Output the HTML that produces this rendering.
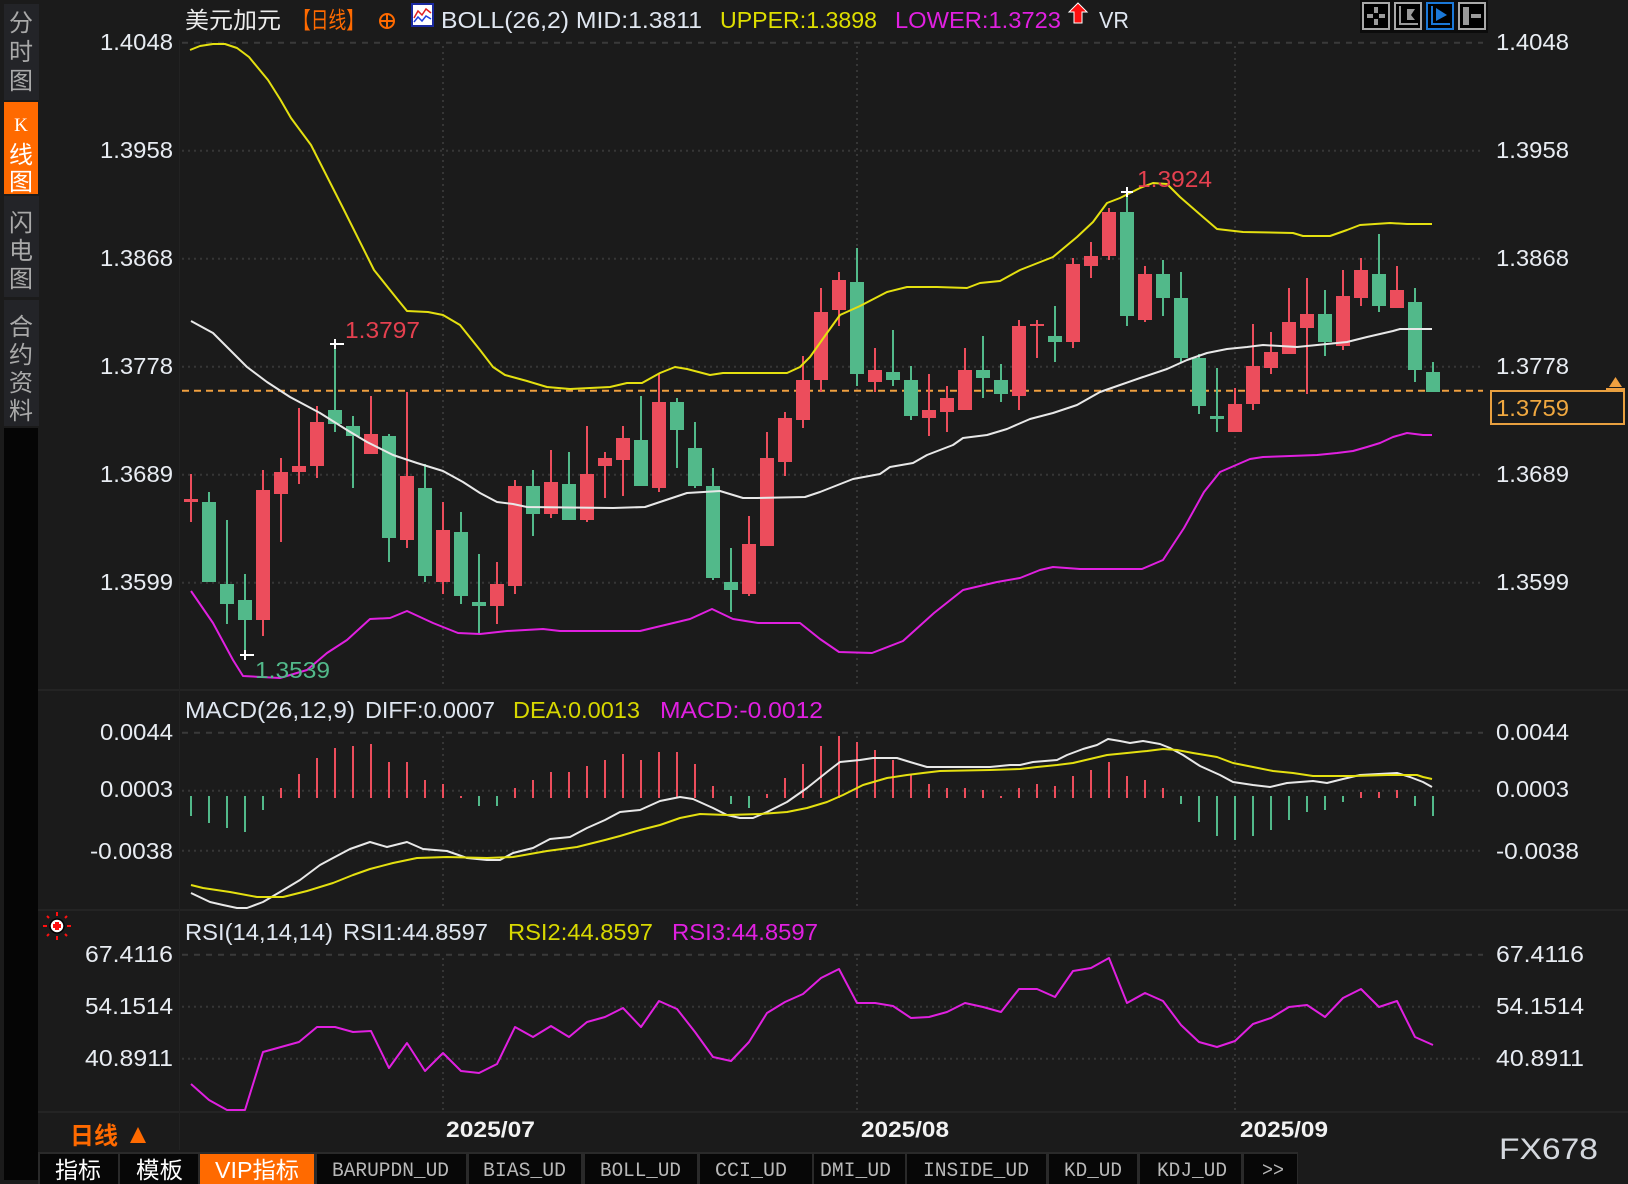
<!DOCTYPE html>
<html><head><meta charset="utf-8"><style>
html,body{margin:0;padding:0;background:#1b1b1b;}
svg{display:block;}
text{font-family:"Liberation Sans","Noto Sans CJK SC",sans-serif;}
.mono text{font-family:"Liberation Mono","Noto Sans CJK SC",monospace;}
</style></head><body>
<svg width="1628" height="1184" viewBox="0 0 1628 1184" xmlns="http://www.w3.org/2000/svg">
<rect x="0" y="0" width="1628" height="1184" fill="#1b1b1b"/>

<!-- left sidebar -->
<rect x="4" y="4" width="35" height="96" fill="#232428"/>
<rect x="4" y="102" width="34" height="92" fill="#ff6a00"/>
<rect x="4" y="196" width="35" height="101" fill="#232428"/>
<rect x="4" y="300" width="35" height="126" fill="#232428"/>
<rect x="4" y="428" width="34" height="752" fill="#050505"/>
<g font-size="24" fill="#a9a9a9" text-anchor="middle">
<text x="21" y="31">分</text><text x="21" y="60">时</text><text x="21" y="89">图</text>
<text x="21" y="231">闪</text><text x="21" y="259">电</text><text x="21" y="287">图</text>
<text x="21" y="335">合</text><text x="21" y="363">约</text><text x="21" y="391">资</text><text x="21" y="419">料</text>
</g>
<g fill="#ffffff" text-anchor="middle">
<text x="21" y="131" font-size="19" style="font-family:'Liberation Serif',serif">K</text>
<text x="21" y="163" font-size="24">线</text><text x="21" y="190" font-size="24">图</text>
</g>

<!-- panel separators -->
<g fill="#242424">
<rect x="38" y="689" width="1590" height="2"/>
<rect x="38" y="909" width="1590" height="2"/>
<rect x="38" y="1111" width="1590" height="2"/>
</g>
<rect x="179" y="40" width="1" height="1110" fill="#222"/>

<!-- grid main -->
<g stroke="#3a3a3a" stroke-width="2">
<line x1="182" y1="42.7" x2="1483" y2="42.7" stroke-dasharray="6 6"/>
<line x1="182" y1="732.7" x2="1483" y2="732.7" stroke-dasharray="6 6"/>
<line x1="182" y1="954.7" x2="1483" y2="954.7" stroke-dasharray="6 6"/>
</g>
<g stroke="#363636" stroke-width="2" stroke-dasharray="2 4">
<line x1="182" y1="150.7" x2="1483" y2="150.7"/>
<line x1="182" y1="258.7" x2="1483" y2="258.7"/>
<line x1="182" y1="366.7" x2="1483" y2="366.7"/>
<line x1="182" y1="474.7" x2="1483" y2="474.7"/>
<line x1="182" y1="582.7" x2="1483" y2="582.7"/>
<line x1="182" y1="790.7" x2="1483" y2="790.7"/>
<line x1="182" y1="850.7" x2="1483" y2="850.7"/>
<line x1="182" y1="1006.7" x2="1483" y2="1006.7"/>
<line x1="182" y1="1058.7" x2="1483" y2="1058.7"/>
<line x1="443" y1="46" x2="443" y2="688"/><line x1="857" y1="46" x2="857" y2="688"/><line x1="1235" y1="46" x2="1235" y2="688"/>
<line x1="443" y1="736" x2="443" y2="908"/><line x1="857" y1="736" x2="857" y2="908"/><line x1="1235" y1="736" x2="1235" y2="908"/>
<line x1="443" y1="958" x2="443" y2="1110"/><line x1="857" y1="958" x2="857" y2="1110"/><line x1="1235" y1="958" x2="1235" y2="1110"/>
</g>

<!-- current price dashed -->
<line x1="182" y1="390.7" x2="1483" y2="390.7" stroke="#f0a040" stroke-width="2" stroke-dasharray="7 5"/>

<!-- candles red -->
<g fill="#ec4d5c">
<rect x="190" y="474" width="2" height="48"/><rect x="184" y="499" width="14" height="3"/>
<rect x="262" y="470" width="2" height="166"/><rect x="256" y="490" width="14" height="130"/>
<rect x="280" y="458" width="2" height="84"/><rect x="274" y="472" width="14" height="22"/>
<rect x="298" y="408" width="2" height="76"/><rect x="292" y="466" width="14" height="6"/>
<rect x="316" y="406" width="2" height="72"/><rect x="310" y="422" width="14" height="44"/>
<rect x="370" y="396" width="2" height="58"/><rect x="364" y="434" width="14" height="20"/>
<rect x="406" y="392" width="2" height="156"/><rect x="400" y="476" width="14" height="64"/>
<rect x="442" y="502" width="2" height="92"/><rect x="436" y="530" width="14" height="52"/>
<rect x="496" y="562" width="2" height="62"/><rect x="490" y="584" width="14" height="22"/>
<rect x="514" y="480" width="2" height="114"/><rect x="508" y="486" width="14" height="100"/>
<rect x="550" y="450" width="2" height="68"/><rect x="544" y="482" width="14" height="32"/>
<rect x="586" y="426" width="2" height="96"/><rect x="580" y="474" width="14" height="46"/>
<rect x="604" y="452" width="2" height="46"/><rect x="598" y="458" width="14" height="8"/>
<rect x="622" y="426" width="2" height="70"/><rect x="616" y="438" width="14" height="22"/>
<rect x="658" y="374" width="2" height="118"/><rect x="652" y="402" width="14" height="86"/>
<rect x="748" y="516" width="2" height="80"/><rect x="742" y="544" width="14" height="50"/>
<rect x="766" y="432" width="2" height="114"/><rect x="760" y="458" width="14" height="88"/>
<rect x="784" y="412" width="2" height="64"/><rect x="778" y="418" width="14" height="44"/>
<rect x="802" y="356" width="2" height="72"/><rect x="796" y="380" width="14" height="40"/>
<rect x="820" y="288" width="2" height="104"/><rect x="814" y="312" width="14" height="68"/>
<rect x="838" y="272" width="2" height="54"/><rect x="832" y="280" width="14" height="30"/>
<rect x="874" y="348" width="2" height="44"/><rect x="868" y="370" width="14" height="12"/>
<rect x="928" y="374" width="2" height="62"/><rect x="922" y="410" width="14" height="8"/>
<rect x="946" y="386" width="2" height="46"/><rect x="940" y="398" width="14" height="14"/>
<rect x="964" y="348" width="2" height="62"/><rect x="958" y="370" width="14" height="40"/>
<rect x="1018" y="320" width="2" height="90"/><rect x="1012" y="326" width="14" height="70"/>
<rect x="1036" y="320" width="2" height="38"/><rect x="1030" y="324" width="14" height="2"/>
<rect x="1072" y="258" width="2" height="90"/><rect x="1066" y="264" width="14" height="78"/>
<rect x="1090" y="242" width="2" height="36"/><rect x="1084" y="256" width="14" height="10"/>
<rect x="1108" y="208" width="2" height="52"/><rect x="1102" y="212" width="14" height="44"/>
<rect x="1144" y="266" width="2" height="56"/><rect x="1138" y="274" width="14" height="46"/>
<rect x="1234" y="388" width="2" height="44"/><rect x="1228" y="404" width="14" height="28"/>
<rect x="1252" y="324" width="2" height="86"/><rect x="1246" y="366" width="14" height="38"/>
<rect x="1270" y="332" width="2" height="42"/><rect x="1264" y="352" width="14" height="16"/>
<rect x="1288" y="288" width="2" height="66"/><rect x="1282" y="322" width="14" height="32"/>
<rect x="1306" y="278" width="2" height="116"/><rect x="1300" y="314" width="14" height="14"/>
<rect x="1342" y="270" width="2" height="80"/><rect x="1336" y="296" width="14" height="50"/>
<rect x="1360" y="258" width="2" height="48"/><rect x="1354" y="270" width="14" height="28"/>
<rect x="1396" y="266" width="2" height="42"/><rect x="1390" y="290" width="14" height="18"/>
</g>
<!-- candles green -->
<g fill="#52b98a">
<rect x="208" y="492" width="2" height="90"/><rect x="202" y="502" width="14" height="80"/>
<rect x="226" y="520" width="2" height="104"/><rect x="220" y="584" width="14" height="20"/>
<rect x="244" y="574" width="2" height="81"/><rect x="238" y="600" width="14" height="20"/>
<rect x="334" y="344" width="2" height="88"/><rect x="328" y="410" width="14" height="14"/>
<rect x="352" y="416" width="2" height="72"/><rect x="346" y="426" width="14" height="10"/>
<rect x="388" y="434" width="2" height="128"/><rect x="382" y="436" width="14" height="102"/>
<rect x="424" y="464" width="2" height="118"/><rect x="418" y="488" width="14" height="88"/>
<rect x="460" y="512" width="2" height="92"/><rect x="454" y="532" width="14" height="64"/>
<rect x="478" y="554" width="2" height="80"/><rect x="472" y="602" width="14" height="4"/>
<rect x="532" y="470" width="2" height="66"/><rect x="526" y="486" width="14" height="28"/>
<rect x="568" y="452" width="2" height="68"/><rect x="562" y="484" width="14" height="36"/>
<rect x="640" y="396" width="2" height="90"/><rect x="634" y="440" width="14" height="46"/>
<rect x="676" y="398" width="2" height="70"/><rect x="670" y="402" width="14" height="28"/>
<rect x="694" y="422" width="2" height="66"/><rect x="688" y="448" width="14" height="38"/>
<rect x="712" y="468" width="2" height="112"/><rect x="706" y="486" width="14" height="92"/>
<rect x="730" y="548" width="2" height="64"/><rect x="724" y="582" width="14" height="8"/>
<rect x="856" y="248" width="2" height="138"/><rect x="850" y="282" width="14" height="92"/>
<rect x="892" y="330" width="2" height="56"/><rect x="886" y="372" width="14" height="8"/>
<rect x="910" y="366" width="2" height="54"/><rect x="904" y="380" width="14" height="36"/>
<rect x="982" y="336" width="2" height="62"/><rect x="976" y="370" width="14" height="8"/>
<rect x="1000" y="364" width="2" height="38"/><rect x="994" y="380" width="14" height="14"/>
<rect x="1054" y="306" width="2" height="56"/><rect x="1048" y="336" width="14" height="6"/>
<rect x="1126" y="192" width="2" height="134"/><rect x="1120" y="212" width="14" height="104"/>
<rect x="1162" y="260" width="2" height="56"/><rect x="1156" y="274" width="14" height="24"/>
<rect x="1180" y="272" width="2" height="90"/><rect x="1174" y="298" width="14" height="60"/>
<rect x="1198" y="354" width="2" height="60"/><rect x="1192" y="358" width="14" height="48"/>
<rect x="1216" y="368" width="2" height="64"/><rect x="1210" y="416" width="14" height="3"/>
<rect x="1324" y="290" width="2" height="66"/><rect x="1318" y="314" width="14" height="28"/>
<rect x="1378" y="234" width="2" height="78"/><rect x="1372" y="274" width="14" height="32"/>
<rect x="1414" y="288" width="2" height="94"/><rect x="1408" y="302" width="14" height="68"/>
<rect x="1432" y="362" width="2" height="30"/><rect x="1426" y="372" width="14" height="20"/>
</g>

<!-- BOLL lines -->
<g fill="none" stroke-width="2" stroke-linejoin="round">
<polyline stroke="#e4e010" points="190,50 200,46 213,44 225,44 237,48 249,57 268,80 280,99 291,118 311,145 343,208 374,270 398,300 407,311 428,312 443,315 460,325 480,350 493,367 505,375 527,381 547,387 570,389 610,387 627,383 642,383 660,373 675,367 687,369 710,375 723,373 787,373 800,367 810,357 827,333 840,315 860,306 887,292 907,287 937,287 967,288 980,283 1000,281 1020,270 1053,257 1077,237 1093,222 1107,203 1120,198 1140,188 1153,183 1167,184 1180,197 1203,217 1217,229 1243,232 1293,233 1303,236 1330,236 1347,230 1360,225 1390,223 1407,224 1432,224"/>
<polyline stroke="#e8e8e8" points="191,321 213,333 247,367 267,382 290,397 320,413 347,430 367,442 393,455 417,463 443,471 463,482 480,493 497,502 513,504 527,507 613,508 645,507 663,501 687,493 720,491 743,498 757,498 805,497 820,492 853,479 880,474 890,467 913,463 927,455 953,445 963,438 987,435 1007,429 1030,419 1053,413 1077,405 1100,392 1120,385 1143,377 1167,369 1187,360 1207,353 1227,349 1247,347 1263,345 1297,347 1317,345 1347,342 1367,337 1393,331 1400,329 1432,329"/>
<polyline stroke="#e020e0" points="191,591 213,623 233,660 243,676 280,678 307,670 327,653 347,640 370,619 390,618 407,611 433,623 458,633 480,634 507,631 543,629 560,631 640,631 690,619 712,609 733,619 758,623 800,623 820,639 839,652 872,653 903,641 934,613 963,590 997,582 1020,578 1040,570 1053,567 1080,569 1142,569 1163,560 1184,528 1204,492 1220,472 1250,459 1263,457 1317,455 1337,453 1353,451 1367,447 1380,443 1393,437 1407,433 1423,435 1432,435"/>
</g>

<!-- high/low markers -->
<g stroke="#ffffff" stroke-width="2">
<line x1="330" y1="344" x2="344" y2="344"/><line x1="335" y1="339" x2="335" y2="349"/>
<line x1="240" y1="655" x2="254" y2="655"/><line x1="245" y1="650" x2="245" y2="660"/>
<line x1="1121" y1="192" x2="1133" y2="192"/><line x1="1127" y1="187" x2="1127" y2="197"/>
</g>
<text x="345" y="338" font-size="23" fill="#e5404f" textLength="75" lengthAdjust="spacingAndGlyphs">1.3797</text>
<text x="255" y="678" font-size="23" fill="#52b98a" textLength="75" lengthAdjust="spacingAndGlyphs">1.3539</text>
<text x="1137" y="187" font-size="23" fill="#e5404f" textLength="75" lengthAdjust="spacingAndGlyphs">1.3924</text>

<!-- MACD histogram -->
<g fill="#ec4d5c">
<rect x="280" y="788" width="2" height="10"/><rect x="298" y="774" width="2" height="24"/><rect x="316" y="758" width="2" height="40"/><rect x="334" y="748" width="2" height="50"/><rect x="352" y="746" width="2" height="52"/><rect x="370" y="744" width="2" height="54"/><rect x="388" y="762" width="2" height="36"/><rect x="406" y="762" width="2" height="36"/><rect x="424" y="780" width="2" height="18"/><rect x="442" y="784" width="2" height="14"/><rect x="460" y="796" width="2" height="2"/>
<rect x="514" y="788" width="2" height="10"/><rect x="532" y="780" width="2" height="18"/><rect x="550" y="772" width="2" height="26"/><rect x="568" y="772" width="2" height="26"/><rect x="586" y="766" width="2" height="32"/><rect x="604" y="760" width="2" height="38"/><rect x="622" y="754" width="2" height="44"/><rect x="640" y="760" width="2" height="38"/><rect x="658" y="752" width="2" height="46"/><rect x="676" y="752" width="2" height="46"/><rect x="694" y="764" width="2" height="34"/><rect x="712" y="786" width="2" height="12"/>
<rect x="766" y="794" width="2" height="4"/><rect x="784" y="778" width="2" height="20"/><rect x="802" y="764" width="2" height="34"/><rect x="820" y="746" width="2" height="52"/><rect x="838" y="736" width="2" height="62"/><rect x="856" y="742" width="2" height="56"/><rect x="874" y="750" width="2" height="48"/><rect x="892" y="760" width="2" height="38"/><rect x="910" y="774" width="2" height="24"/><rect x="928" y="784" width="2" height="14"/><rect x="946" y="788" width="2" height="10"/><rect x="964" y="788" width="2" height="10"/><rect x="982" y="790" width="2" height="8"/><rect x="1000" y="796" width="2" height="2"/><rect x="1018" y="788" width="2" height="10"/><rect x="1036" y="784" width="2" height="14"/><rect x="1054" y="786" width="2" height="12"/><rect x="1072" y="776" width="2" height="22"/><rect x="1090" y="770" width="2" height="28"/><rect x="1108" y="762" width="2" height="36"/><rect x="1126" y="776" width="2" height="22"/><rect x="1144" y="780" width="2" height="18"/><rect x="1162" y="788" width="2" height="10"/>
<rect x="1360" y="792" width="2" height="6"/><rect x="1378" y="792" width="2" height="6"/><rect x="1396" y="790" width="2" height="8"/>
</g>
<g fill="#52b98a">
<rect x="190" y="796" width="2" height="20"/><rect x="208" y="796" width="2" height="27"/><rect x="226" y="796" width="2" height="32"/><rect x="244" y="796" width="2" height="36"/><rect x="262" y="796" width="2" height="14"/>
<rect x="478" y="796" width="2" height="10"/><rect x="496" y="796" width="2" height="10"/>
<rect x="730" y="796" width="2" height="8"/><rect x="748" y="796" width="2" height="12"/>
<rect x="1180" y="796" width="2" height="8"/><rect x="1198" y="796" width="2" height="26"/><rect x="1216" y="796" width="2" height="40"/><rect x="1234" y="796" width="2" height="44"/><rect x="1252" y="796" width="2" height="40"/><rect x="1270" y="796" width="2" height="34"/><rect x="1288" y="796" width="2" height="24"/><rect x="1306" y="796" width="2" height="16"/><rect x="1324" y="796" width="2" height="14"/><rect x="1342" y="796" width="2" height="6"/>
<rect x="1414" y="796" width="2" height="10"/><rect x="1432" y="796" width="2" height="20"/>
</g>
<g fill="none" stroke-width="2" stroke-linejoin="round">
<polyline stroke="#e8e8e8" points="191,893 210,902 223,905 237,908 247,908 263,902 280,892 300,880 320,865 333,858 350,849 370,842 387,847 407,842 423,849 447,851 467,858 487,860 500,860 513,853 533,848 550,839 570,837 587,828 605,820 620,812 640,810 660,801 680,797 693,799 713,808 727,815 740,818 753,818 767,812 787,802 807,788 827,772 840,762 860,760 873,758 897,758 910,762 927,767 990,767 1010,765 1020,765 1033,762 1057,760 1067,755 1083,749 1097,745 1108,739 1120,741 1130,743 1143,741 1160,744 1170,748 1183,755 1200,766 1220,775 1233,782 1253,785 1270,787 1287,783 1313,781 1327,783 1343,779 1360,775 1397,773 1410,777 1423,782 1432,787"/>
<polyline stroke="#e4e010" points="191,885 203,888 230,892 257,897 283,897 307,891 333,883 353,875 370,869 393,863 417,858 447,857 487,858 513,857 547,851 577,847 605,840 620,836 640,830 660,825 680,818 700,814 727,815 760,814 787,812 807,808 827,802 843,795 863,785 887,778 907,775 923,773 940,771 990,770 1020,769 1037,767 1057,765 1073,763 1090,759 1107,755 1127,753 1147,751 1163,749 1177,750 1193,753 1217,757 1233,763 1253,767 1273,771 1293,773 1313,776 1353,776 1387,775 1417,775 1423,777 1432,779"/>
<!-- RSI -->
<polyline stroke="#e020e0" points="191,1084 209,1100 227,1110 245,1110 263,1052 281,1047 299,1042 317,1027 335,1027 353,1032 371,1031 389,1068 407,1043 425,1071 443,1053 461,1071 479,1073 497,1064 515,1027 533,1037 551,1026 569,1037 587,1022 605,1017 623,1008 641,1027 659,1001 677,1009 695,1032 713,1057 731,1061 749,1042 767,1013 785,1002 803,994 821,978 839,969 857,1003 875,1003 893,1006 911,1018 929,1017 947,1012 965,1003 983,1007 1001,1012 1019,989 1037,989 1055,997 1073,971 1091,968 1109,958 1127,1003 1145,993 1163,1001 1181,1025 1199,1042 1217,1047 1235,1041 1253,1024 1271,1018 1289,1007 1307,1005 1325,1017 1343,998 1361,989 1379,1007 1397,1001 1415,1037 1433,1045"/>
</g>

<!-- header -->
<text x="185" y="28" font-size="23" fill="#ececec" textLength="96" lengthAdjust="spacingAndGlyphs">美元加元</text>
<text x="293" y="28" font-size="23" fill="#ff6a00" textLength="71" lengthAdjust="spacingAndGlyphs">【日线】</text>
<g stroke="#ff6a00" stroke-width="2" fill="none"><circle cx="387" cy="21" r="7"/><line x1="380" y1="21" x2="394" y2="21"/><line x1="387" y1="14" x2="387" y2="28"/></g>
<rect x="412" y="4" width="21" height="22" fill="#ffffff" stroke="#1a2aa0" stroke-width="2"/>
<polyline points="414,18 418,11 422,15 426,9 431,13" fill="none" stroke="#e02020" stroke-width="1.5"/>
<polyline points="414,22 418,17 422,21 426,16 431,19" fill="none" stroke="#2040e0" stroke-width="1.5"/>
<text x="441" y="28" font-size="23" fill="#dfe6f0" textLength="261" lengthAdjust="spacingAndGlyphs">BOLL(26,2) MID:1.3811</text>
<text x="720" y="28" font-size="23" fill="#dede00" textLength="157" lengthAdjust="spacingAndGlyphs">UPPER:1.3898</text>
<text x="895" y="28" font-size="23" fill="#e020e0" textLength="166" lengthAdjust="spacingAndGlyphs">LOWER:1.3723</text>
<polygon points="1078,3 1087,12 1082,12 1082,23 1074,23 1074,12 1069,12" fill="#ff1010" stroke="#ffffff" stroke-width="1"/>
<text x="1099" y="28" font-size="23" fill="#dfe6f0" textLength="30" lengthAdjust="spacingAndGlyphs">VR</text>

<!-- top-right icons -->
<rect x="1360" y="0" width="128" height="33" fill="#0c0c0c"/>
<g fill="#000" stroke-width="2">
<rect x="1363" y="3" width="26" height="26" stroke="#a8a8a8"/>
<rect x="1395" y="3" width="26" height="26" stroke="#a8a8a8"/>
<rect x="1427" y="3" width="26" height="26" stroke="#1a78d8"/>
<rect x="1459" y="3" width="26" height="26" stroke="#a8a8a8"/>
</g>
<g fill="#9a9a9a">
<rect x="1374" y="7" width="4" height="6"/><rect x="1374" y="19" width="4" height="6"/><rect x="1367" y="14" width="6" height="4"/><rect x="1379" y="14" width="6" height="4"/>
<rect x="1399" y="6" width="2" height="19"/><rect x="1399" y="23" width="19" height="2"/><polygon points="1407,9 1415,9 1411,15 1415,20 1407,20"/>
<rect x="1463" y="7" width="6" height="18"/><rect x="1471" y="14" width="10" height="4"/>
</g>
<g fill="#1a78d8"><rect x="1431" y="6" width="2" height="19"/><rect x="1431" y="23" width="19" height="2"/><polygon points="1436,8 1447,15 1436,21"/></g>

<!-- axis labels -->
<g font-size="23" fill="#e8ecf2">
<g text-anchor="end">
<text x="173" y="50" textLength="73" lengthAdjust="spacingAndGlyphs">1.4048</text>
<text x="173" y="158" textLength="73" lengthAdjust="spacingAndGlyphs">1.3958</text>
<text x="173" y="266" textLength="73" lengthAdjust="spacingAndGlyphs">1.3868</text>
<text x="173" y="374" textLength="73" lengthAdjust="spacingAndGlyphs">1.3778</text>
<text x="173" y="482" textLength="73" lengthAdjust="spacingAndGlyphs">1.3689</text>
<text x="173" y="590" textLength="73" lengthAdjust="spacingAndGlyphs">1.3599</text>
<text x="173" y="740" textLength="73" lengthAdjust="spacingAndGlyphs">0.0044</text>
<text x="173" y="797" textLength="73" lengthAdjust="spacingAndGlyphs">0.0003</text>
<text x="173" y="859" textLength="83" lengthAdjust="spacingAndGlyphs">-0.0038</text>
<text x="173" y="962" textLength="88" lengthAdjust="spacingAndGlyphs">67.4116</text>
<text x="173" y="1014" textLength="88" lengthAdjust="spacingAndGlyphs">54.1514</text>
<text x="173" y="1066" textLength="88" lengthAdjust="spacingAndGlyphs">40.8911</text>
</g>
<text x="1496" y="50" textLength="73" lengthAdjust="spacingAndGlyphs">1.4048</text>
<text x="1496" y="158" textLength="73" lengthAdjust="spacingAndGlyphs">1.3958</text>
<text x="1496" y="266" textLength="73" lengthAdjust="spacingAndGlyphs">1.3868</text>
<text x="1496" y="374" textLength="73" lengthAdjust="spacingAndGlyphs">1.3778</text>
<text x="1496" y="482" textLength="73" lengthAdjust="spacingAndGlyphs">1.3689</text>
<text x="1496" y="590" textLength="73" lengthAdjust="spacingAndGlyphs">1.3599</text>
<text x="1496" y="740" textLength="73" lengthAdjust="spacingAndGlyphs">0.0044</text>
<text x="1496" y="797" textLength="73" lengthAdjust="spacingAndGlyphs">0.0003</text>
<text x="1496" y="859" textLength="83" lengthAdjust="spacingAndGlyphs">-0.0038</text>
<text x="1496" y="962" textLength="88" lengthAdjust="spacingAndGlyphs">67.4116</text>
<text x="1496" y="1014" textLength="88" lengthAdjust="spacingAndGlyphs">54.1514</text>
<text x="1496" y="1066" textLength="88" lengthAdjust="spacingAndGlyphs">40.8911</text>
</g>

<!-- current price box -->
<rect x="1491" y="391" width="133" height="33" fill="#1b1b1b" stroke="#e8a040" stroke-width="2"/>
<text x="1496" y="416" font-size="23" fill="#f0a840" textLength="73" lengthAdjust="spacingAndGlyphs">1.3759</text>
<polygon points="1609,387 1622,387 1615.5,377" fill="#f0a040"/>
<rect x="1606" y="388" width="19" height="2" fill="#f0a040"/>

<!-- MACD / RSI titles -->
<g font-size="23">
<text x="185" y="718" fill="#dfe6f0" textLength="170" lengthAdjust="spacingAndGlyphs">MACD(26,12,9)</text>
<text x="365" y="718" fill="#dfe6f0" textLength="130" lengthAdjust="spacingAndGlyphs">DIFF:0.0007</text>
<text x="513" y="718" fill="#d8d800" textLength="127" lengthAdjust="spacingAndGlyphs">DEA:0.0013</text>
<text x="660" y="718" fill="#e020e0" textLength="163" lengthAdjust="spacingAndGlyphs">MACD:-0.0012</text>
<text x="185" y="940" fill="#dfe6f0" textLength="148" lengthAdjust="spacingAndGlyphs">RSI(14,14,14)</text>
<text x="343" y="940" fill="#dfe6f0" textLength="145" lengthAdjust="spacingAndGlyphs">RSI1:44.8597</text>
<text x="508" y="940" fill="#d8d800" textLength="145" lengthAdjust="spacingAndGlyphs">RSI2:44.8597</text>
<text x="672" y="940" fill="#e020e0" textLength="146" lengthAdjust="spacingAndGlyphs">RSI3:44.8597</text>
</g>

<!-- red indicator icon -->
<g stroke="#ff1010" stroke-width="2">
<line x1="57" y1="912" x2="57" y2="916"/><line x1="57" y1="936" x2="57" y2="940"/>
<line x1="43" y1="926" x2="47" y2="926"/><line x1="67" y1="926" x2="71" y2="926"/>
<line x1="47" y1="916" x2="49" y2="918"/><line x1="65" y1="934" x2="67" y2="936"/>
<line x1="67" y1="916" x2="65" y2="918"/><line x1="49" y1="934" x2="47" y2="936"/>
</g>
<circle cx="57" cy="926" r="7" fill="#ffffff" stroke="#000" stroke-width="1.5"/>
<rect x="53" y="924" width="8" height="4" fill="#ff1010"/><rect x="55" y="922" width="4" height="8" fill="#ff1010"/>

<!-- date labels -->
<g font-size="22" font-weight="bold" fill="#f2f2f2">
<text x="446" y="1137" textLength="89" lengthAdjust="spacingAndGlyphs">2025/07</text>
<text x="861" y="1137" textLength="88" lengthAdjust="spacingAndGlyphs">2025/08</text>
<text x="1240" y="1137" textLength="88" lengthAdjust="spacingAndGlyphs">2025/09</text>
</g>
<text x="70" y="1144" font-size="24" font-weight="bold" fill="#ff6a00" textLength="48" lengthAdjust="spacingAndGlyphs">日线</text>
<polygon points="130,1143 146,1143 138,1127" fill="#ff6a00"/>

<!-- bottom tab bar -->
<rect x="38" y="1152" width="1260" height="32" fill="#2a2a2a"/>
<g fill="#070707">
<rect x="40" y="1154" width="78" height="30"/>
<rect x="120" y="1154" width="78" height="30"/>
<rect x="317" y="1154" width="149" height="30"/>
<rect x="469" y="1154" width="112" height="30"/>
<rect x="585" y="1154" width="112" height="30"/>
<rect x="700" y="1154" width="112" height="30"/>
<rect x="814" y="1154" width="91" height="30"/>
<rect x="907" y="1154" width="139" height="30"/>
<rect x="1049" y="1154" width="88" height="30"/>
<rect x="1140" y="1154" width="101" height="30"/>
<rect x="1244" y="1154" width="53" height="30"/>
</g>
<rect x="200" y="1154" width="114" height="30" fill="#ff6a00"/>
<g font-size="23" fill="#ffffff">
<text x="55" y="1178" textLength="46" lengthAdjust="spacingAndGlyphs">指标</text>
<text x="136" y="1178" textLength="47" lengthAdjust="spacingAndGlyphs">模板</text>
<text x="215" y="1178" textLength="84" lengthAdjust="spacingAndGlyphs">VIP指标</text>
</g>
<g class="mono" font-size="20" fill="#b8b8b8">
<text x="332" y="1176" textLength="117" lengthAdjust="spacingAndGlyphs">BARUPDN_UD</text>
<text x="483" y="1176" textLength="83" lengthAdjust="spacingAndGlyphs">BIAS_UD</text>
<text x="600" y="1176" textLength="81" lengthAdjust="spacingAndGlyphs">BOLL_UD</text>
<text x="715" y="1176" textLength="72" lengthAdjust="spacingAndGlyphs">CCI_UD</text>
<text x="820" y="1176" textLength="71" lengthAdjust="spacingAndGlyphs">DMI_UD</text>
<text x="923" y="1176" textLength="106" lengthAdjust="spacingAndGlyphs">INSIDE_UD</text>
<text x="1064" y="1176" textLength="58" lengthAdjust="spacingAndGlyphs">KD_UD</text>
<text x="1157" y="1176" textLength="70" lengthAdjust="spacingAndGlyphs">KDJ_UD</text>
<text x="1262" y="1176" textLength="22" lengthAdjust="spacingAndGlyphs">&gt;&gt;</text>
</g>
<text x="1499" y="1159" font-size="30" fill="#d4d8de" textLength="99" lengthAdjust="spacingAndGlyphs">FX678</text>
</svg>
</body></html>
